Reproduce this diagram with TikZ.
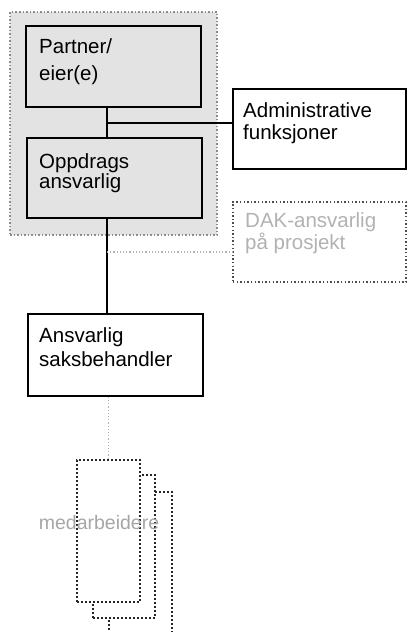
\documentclass[tikz,border=0pt]{standalone}
\usepackage{fontspec}
\setmainfont{Liberation Sans}
\begin{document}
\begin{tikzpicture}[x=1pt,y=-1pt,
  solidbox/.style={draw=black, line width=1.5pt, inner sep=0pt, rectangle},
  greybox/.style={solidbox, fill=gray!22},
  whitebox/.style={solidbox, fill=white},
  dotbox/.style={draw=black!85, dash pattern=on 1.6pt off 2.4pt, line width=1.6pt, inner sep=0pt, rectangle, fill=white},
  dakbox/.style={draw=black!70, dash pattern=on 1.4pt off 2.2pt, line width=1.4pt, inner sep=0pt, rectangle, fill=white},
  region/.style={draw=gray!90, dash pattern=on 1.5pt off 2pt, line width=1.7pt, fill=gray!22, inner sep=0pt, rectangle},
  lbl/.style={anchor=north west, inner sep=0pt, align=left, font=\fontsize{20.5}{#1}\selectfont},
  lbl/.default=27,
  faintlbl/.style={lbl=#1, text=gray!60},
  solidline/.style={line width=1.5pt, draw=black},
  faintline/.style={dash pattern=on 1.2pt off 2pt, line width=1.2pt, draw=gray!60}
]
\useasboundingbox (0,0) rectangle (408,632);
\clip (0,0) rectangle (408,632);

% grey region
\node[region, minimum width=207pt, minimum height=223pt] (reg) at (113.5,123.5) {};

% boxes
\node[greybox, minimum width=175pt, minimum height=81pt] (partner) at (113.5,66.5) {};
\node[greybox, minimum width=175pt, minimum height=80pt] (oppdrag) at (114.5,178) {};
\node[whitebox, minimum width=173pt, minimum height=80pt] (admin) at (319.5,129) {};
\node[dakbox, minimum width=173pt, minimum height=80pt] (dak) at (319.5,242) {};
\node[whitebox, minimum width=175pt, minimum height=82pt] (ansv) at (115.5,355) {};

% stacked dotted boxes (back to front)
\node[dotbox, minimum width=63pt, minimum height=150pt] (m3) at (140.5,567) {};
\node[dotbox, minimum width=62pt, minimum height=143pt] (m2) at (124,546.5) {};
\node[dotbox, minimum width=63pt, minimum height=142pt] (m1) at (108.5,531) {};

% connectors
\coordinate (j1) at (107,123);
\coordinate (j2) at (107,252);
\draw[solidline] (partner.south -| j1) -- (oppdrag.north -| j1);
\draw[solidline] (j1) -- (j1 -| admin.west);
\draw[solidline] (oppdrag.south -| j1) -- (ansv.north -| j1);
\draw[faintline] (j2) -- (j2 -| dak.west);
\draw[faintline] (ansv.south -| m1.north) -- (m1.north);

% labels
\node[lbl=27] (tpartner) at (39,38) {Partner/\\eier(e)};
\node[lbl=20] (toppdrag) at (39,153) {Oppdrags\\ansvarlig};
\node[lbl=22] (tadmin) at (243,102) {Administrative\\funksjoner};
\node[faintlbl=22] (tdak) at (245,212) {DAK-ansvarlig\\på prosjekt};
\node[lbl=24] (tansv) at (39,327) {Ansvarlig\\saksbehandler};
\node[anchor=base, inner sep=0pt, text=gray!70, font=\fontsize{19.5}{22}\selectfont] (tmed) at (99,529) {medarbeidere};
\end{tikzpicture}
\end{document}
